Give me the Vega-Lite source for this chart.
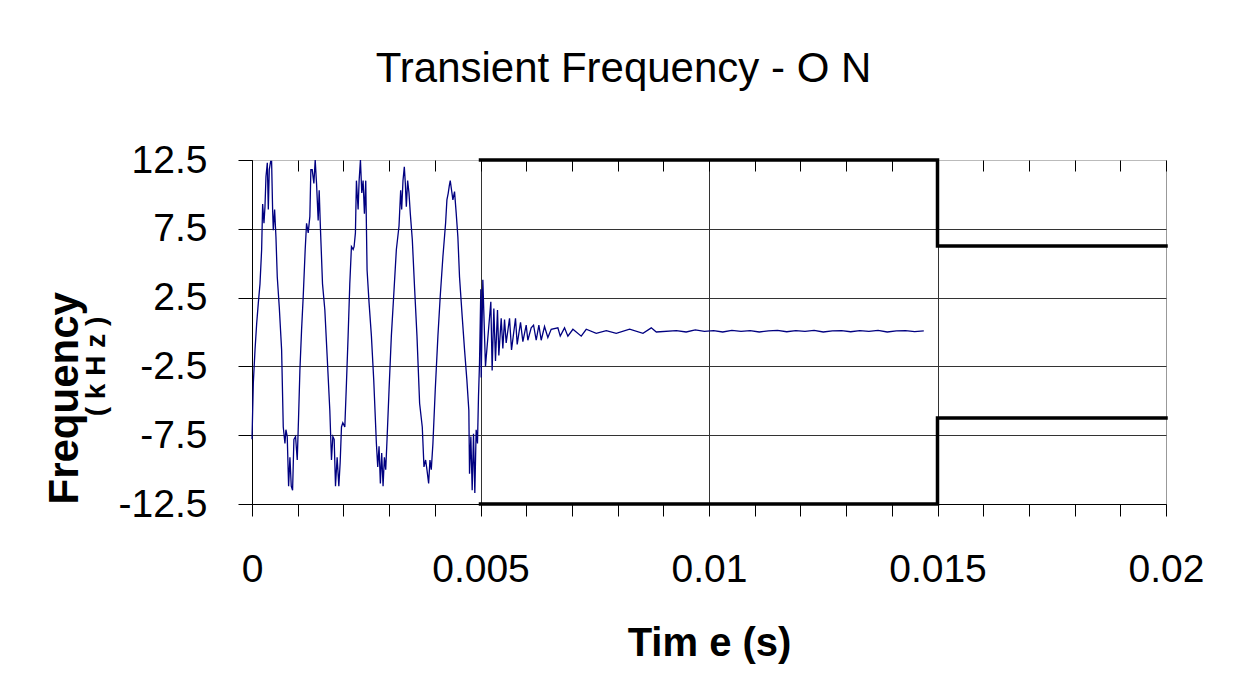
{
  "$schema": "https://vega.github.io/schema/vega-lite/v6.json",
  "width": 914,
  "height": 344,
  "autosize": "none",
  "padding": {"left": 252, "top": 160, "right": 72, "bottom": 186},
  "background": "white",
  "title": {
    "text": "Transient Frequency - O N",
    "font": "Liberation Sans, Arial, sans-serif",
    "fontSize": 42,
    "fontWeight": "normal",
    "color": "#000",
    "anchor": "middle",
    "frame": "bounds",
    "offset": 50
  },
  "datasets": {
    "signal": [
      {"t": 0, "f": -7.8}, {"t": 0.000029, "f": -3.7}, {"t": 0.000066, "f": -1.3}, {"t": 0.000102, "f": 0.6},
      {"t": 0.000138, "f": 2.1}, {"t": 0.000175, "f": 3.5}, {"t": 0.000211, "f": 6.0}, {"t": 0.000233, "f": 9.3},
      {"t": 0.000262, "f": 7.9}, {"t": 0.000284, "f": 9.1}, {"t": 0.000306, "f": 11.3}, {"t": 0.000335, "f": 12.3},
      {"t": 0.000357, "f": 8.9}, {"t": 0.000378, "f": 11.8}, {"t": 0.000408, "f": 12.4}, {"t": 0.000429, "f": 12.4},
      {"t": 0.000451, "f": 8.9}, {"t": 0.000466, "f": 7.4}, {"t": 0.000495, "f": 8.9}, {"t": 0.000524, "f": 6.9},
      {"t": 0.000553, "f": 4.0}, {"t": 0.000597, "f": 1.8}, {"t": 0.000648, "f": -1.3}, {"t": 0.000684, "f": -6.9},
      {"t": 0.000721, "f": -8.1}, {"t": 0.000742, "f": -7.1}, {"t": 0.000771, "f": -7.6}, {"t": 0.000801, "f": -11.2},
      {"t": 0.000830, "f": -9.1}, {"t": 0.000859, "f": -11.2}, {"t": 0.000888, "f": -11.5}, {"t": 0.000917, "f": -7.8},
      {"t": 0.000953, "f": -7.6}, {"t": 0.000990, "f": -9.3}, {"t": 0.001019, "f": -6.2}, {"t": 0.001048, "f": -2.8},
      {"t": 0.001084, "f": 0.1}, {"t": 0.001121, "f": 2.6}, {"t": 0.001164, "f": 6.0}, {"t": 0.001194, "f": 7.9},
      {"t": 0.001230, "f": 7.2}, {"t": 0.001266, "f": 8.4}, {"t": 0.001288, "f": 11.8}, {"t": 0.001317, "f": 11.8},
      {"t": 0.001354, "f": 10.8}, {"t": 0.001383, "f": 12.5}, {"t": 0.001412, "f": 10.8}, {"t": 0.001448, "f": 8.1},
      {"t": 0.001470, "f": 10.3}, {"t": 0.001499, "f": 7.4}, {"t": 0.001543, "f": 3.5}, {"t": 0.001594, "f": 1.6},
      {"t": 0.001645, "f": -1.8}, {"t": 0.001703, "f": -5.7}, {"t": 0.001739, "f": -9.3}, {"t": 0.001769, "f": -7.6},
      {"t": 0.001798, "f": -7.8}, {"t": 0.001827, "f": -11.2}, {"t": 0.001863, "f": -9.1}, {"t": 0.001900, "f": -11.2},
      {"t": 0.001929, "f": -9.5}, {"t": 0.001958, "f": -6.9}, {"t": 0.001987, "f": -6.6}, {"t": 0.002031, "f": -6.9},
      {"t": 0.002067, "f": -3.7}, {"t": 0.002103, "f": -0.3}, {"t": 0.002140, "f": 3.5}, {"t": 0.002176, "f": 6.2},
      {"t": 0.002213, "f": 6.0}, {"t": 0.002234, "f": 6.2}, {"t": 0.002263, "f": 7.2}, {"t": 0.002285, "f": 11.0},
      {"t": 0.002322, "f": 8.9}, {"t": 0.002344, "f": 11.0}, {"t": 0.002373, "f": 12.5}, {"t": 0.002402, "f": 10.1},
      {"t": 0.002431, "f": 11.0}, {"t": 0.002460, "f": 8.6}, {"t": 0.002489, "f": 11.0}, {"t": 0.002518, "f": 4.5},
      {"t": 0.002562, "f": 2.1}, {"t": 0.002613, "f": -0.3}, {"t": 0.002664, "f": -3.5}, {"t": 0.002722, "f": -8.1},
      {"t": 0.002751, "f": -9.8}, {"t": 0.002780, "f": -8.3}, {"t": 0.002809, "f": -11.0}, {"t": 0.002838, "f": -8.8},
      {"t": 0.002868, "f": -11.2}, {"t": 0.002897, "f": -9.1}, {"t": 0.002926, "f": -10.0}, {"t": 0.002955, "f": -7.8},
      {"t": 0.002999, "f": -4.2}, {"t": 0.003049, "f": -0.3}, {"t": 0.003100, "f": 2.6}, {"t": 0.003159, "f": 6.0},
      {"t": 0.003217, "f": 7.7}, {"t": 0.003253, "f": 10.3}, {"t": 0.003275, "f": 8.9}, {"t": 0.003304, "f": 11.0},
      {"t": 0.003333, "f": 12.0}, {"t": 0.003355, "f": 10.8}, {"t": 0.003377, "f": 9.1}, {"t": 0.003406, "f": 11.0},
      {"t": 0.003435, "f": 10.1}, {"t": 0.003464, "f": 8.6}, {"t": 0.003508, "f": 6.7}, {"t": 0.003559, "f": 3.1},
      {"t": 0.003610, "f": -0.3}, {"t": 0.003668, "f": -5.2}, {"t": 0.003726, "f": -6.9}, {"t": 0.003763, "f": -9.8},
      {"t": 0.003799, "f": -9.3}, {"t": 0.003828, "f": -10.0}, {"t": 0.003865, "f": -11.0}, {"t": 0.003894, "f": -9.3},
      {"t": 0.003923, "f": -10.0}, {"t": 0.003959, "f": -8.1}, {"t": 0.004010, "f": -4.2}, {"t": 0.004068, "f": -0.3},
      {"t": 0.004119, "f": 2.6}, {"t": 0.004178, "f": 5.5}, {"t": 0.004236, "f": 7.9}, {"t": 0.004265, "f": 9.6},
      {"t": 0.004294, "f": 10.1}, {"t": 0.004316, "f": 10.6}, {"t": 0.004338, "f": 11.0}, {"t": 0.004367, "f": 10.3},
      {"t": 0.004396, "f": 9.6}, {"t": 0.004432, "f": 10.2}, {"t": 0.004469, "f": 8.6}, {"t": 0.004505, "f": 6.9},
      {"t": 0.004541, "f": 4.0}, {"t": 0.004600, "f": 1.1}, {"t": 0.004651, "f": -1.3}, {"t": 0.004702, "f": -3.5},
      {"t": 0.004745, "f": -5.7}, {"t": 0.004760, "f": -10.3}, {"t": 0.004789, "f": -7.6}, {"t": 0.004818, "f": -11.5},
      {"t": 0.004847, "f": -7.4}, {"t": 0.004876, "f": -11.7}, {"t": 0.004905, "f": -7.1}, {"t": 0.004934, "f": -8.1},
      {"t": 0.004956, "f": -4.7}, {"t": 0.004978, "f": -2.3}, {"t": 0.005007, "f": 3.1},
      {"t": 0.005015, "f": -3.3}, {"t": 0.005051, "f": 3.8}, {"t": 0.005109, "f": -2.5}, {"t": 0.005226, "f": 2.2},
      {"t": 0.005255, "f": -2.8}, {"t": 0.005292, "f": 1.7}, {"t": 0.005328, "f": -2.1}, {"t": 0.005372, "f": 1.6},
      {"t": 0.005401, "f": -1.7}, {"t": 0.005453, "f": 1.0}, {"t": 0.005489, "f": -1.2}, {"t": 0.005526, "f": 0.9},
      {"t": 0.005562, "f": -0.8}, {"t": 0.005635, "f": 1.0}, {"t": 0.005679, "f": -1.3}, {"t": 0.005766, "f": 1.0},
      {"t": 0.005803, "f": -0.9}, {"t": 0.005876, "f": 0.7}, {"t": 0.005927, "f": -0.7}, {"t": 0.006000, "f": 0.5},
      {"t": 0.006036, "f": -0.6}, {"t": 0.006109, "f": 0.3}, {"t": 0.006161, "f": 0.5}, {"t": 0.006219, "f": -0.6},
      {"t": 0.006277, "f": 0.5}, {"t": 0.006328, "f": -0.6}, {"t": 0.006401, "f": 0.4}, {"t": 0.006474, "f": -0.4},
      {"t": 0.006547, "f": 0.2}, {"t": 0.006693, "f": 0.3}, {"t": 0.006745, "f": -0.3}, {"t": 0.006839, "f": 0.3},
      {"t": 0.006912, "f": -0.3}, {"t": 0.007022, "f": 0.2}, {"t": 0.007204, "f": -0.3}, {"t": 0.007314, "f": 0.2},
      {"t": 0.007533, "f": -0.1}, {"t": 0.007752, "f": 0.1}, {"t": 0.007971, "f": -0.1}, {"t": 0.008263, "f": 0.2},
      {"t": 0.008555, "f": -0.1}, {"t": 0.008737, "f": 0.3}, {"t": 0.008847, "f": 0.0}, {"t": 0.009285, "f": 0.1},
      {"t": 0.0095, "f": 0.0}, {"t": 0.0097, "f": 0.15}, {"t": 0.0099, "f": 0.05}, {"t": 0.0101, "f": 0.1},
      {"t": 0.0103, "f": 0.0}, {"t": 0.0105, "f": 0.12}, {"t": 0.0107, "f": 0.05}, {"t": 0.0109, "f": 0.1},
      {"t": 0.0111, "f": 0.0}, {"t": 0.0113, "f": 0.08}, {"t": 0.0115, "f": 0.12}, {"t": 0.0117, "f": 0.02},
      {"t": 0.0119, "f": 0.1}, {"t": 0.0121, "f": 0.05}, {"t": 0.0123, "f": 0.12}, {"t": 0.0125, "f": 0.0},
      {"t": 0.0127, "f": 0.08}, {"t": 0.0129, "f": 0.1}, {"t": 0.0131, "f": 0.02}, {"t": 0.0133, "f": 0.1},
      {"t": 0.0135, "f": 0.05}, {"t": 0.0137, "f": 0.12}, {"t": 0.0139, "f": 0.0}, {"t": 0.0141, "f": 0.08},
      {"t": 0.0143, "f": 0.1}, {"t": 0.0145, "f": 0.03}, {"t": 0.0147, "f": 0.08}
    ],
    "mask": [
      {"band": "upper", "i": 0, "t": 0.005, "f": 12.5},
      {"band": "upper", "i": 1, "t": 0.015, "f": 12.5},
      {"band": "upper", "i": 2, "t": 0.015, "f": 6.25},
      {"band": "upper", "i": 3, "t": 0.02, "f": 6.25},
      {"band": "lower", "i": 0, "t": 0.005, "f": -12.5},
      {"band": "lower", "i": 1, "t": 0.015, "f": -12.5},
      {"band": "lower", "i": 2, "t": 0.015, "f": -6.25},
      {"band": "lower", "i": 3, "t": 0.02, "f": -6.25}
    ]
  },
  "config": {
    "font": "Liberation Sans, Arial, sans-serif",
    "view": {"stroke": null},
    "axis": {"labelColor": "#000", "titleColor": "#000", "tickColor": "#000", "domainColor": "#000", "labelFont": "Liberation Sans", "titleFont": "Liberation Sans"}
  },
  "layer": [
    {
      "data": {"name": "signal"},
      "mark": {"type": "line", "color": "#000080", "strokeWidth": 1.3, "clip": false},
      "encoding": {
        "x": {
          "field": "t", "type": "quantitative",
          "scale": {"domain": [0, 0.02], "nice": false, "zero": false},
          "axis": {
            "values": [0, 0.001, 0.002, 0.003, 0.004, 0.005, 0.006, 0.007, 0.008, 0.009, 0.01, 0.011, 0.012, 0.013, 0.014, 0.015, 0.016, 0.017, 0.018, 0.019, 0.02],
            "labelExpr": "abs(datum.value*200 - round(datum.value*200)) < 0.001 ? toString(datum.value) : ''",
            "labelFontSize": 39,
            "labelPadding": 34,
            "labelFlush": false,
            "labelOverlap": false,
            "tickSize": 12,
            "tickWidth": 1,
            "grid": true,
            "gridWidth": 1,
            "gridOpacity": {"condition": {"test": "abs(datum.value*200 - round(datum.value*200)) < 0.001", "value": 1}, "value": 0},
            "gridColor": {"condition": {"test": "datum.value > 0.0195", "value": "#999"}, "value": "#333"},
            "title": "Tim e (s)",
            "titleFontSize": 40,
            "titleFontWeight": "bold",
            "titlePadding": 34
          }
        },
        "y": {
          "field": "f", "type": "quantitative",
          "scale": {"domain": [-12.5, 12.5], "nice": false, "zero": false},
          "axis": {
            "values": [-12.5, -7.5, -2.5, 2.5, 7.5, 12.5],
            "labelExpr": "toString(datum.value)",
            "labelFontSize": 39,
            "labelPadding": 31,
            "tickSize": 14,
            "grid": true,
            "gridWidth": 1,
            "gridColor": {"condition": {"test": "datum.value > 12", "value": "#bbb"}, "value": "#333"},
            "title": "Frequency",
            "titleFontSize": 42,
            "titleFontWeight": "bold",
            "titleAnchor": "start",
            "titlePadding": 32
          }
        }
      }
    },
    {
      "data": {"name": "mask"},
      "mark": {"type": "line", "color": "#000", "strokeWidth": 3.5, "strokeJoin": "miter", "strokeCap": "square", "clip": false},
      "encoding": {
        "x": {
          "field": "t", "type": "quantitative",
          "axis": {
            "values": [0, 0.001, 0.002, 0.003, 0.004, 0.005, 0.006, 0.007, 0.008, 0.009, 0.01, 0.011, 0.012, 0.013, 0.014, 0.015, 0.016, 0.017, 0.018, 0.019, 0.02],
            "labels": false, "domain": false, "grid": false, "tickSize": -11, "tickWidth": 1, "title": null
          }
        },
        "y": {
          "field": "f", "type": "quantitative",
          "axis": {
            "orient": "left",
            "labels": false, "domain": false, "grid": false, "ticks": false,
            "title": "( k H z )",
            "titleFontSize": 28,
            "titleFontWeight": "bold",
            "titlePadding": 142,
            "titleY": 206
          }
        },
        "detail": {"field": "band"},
        "order": {"field": "i", "type": "quantitative"}
      }
    }
  ],
  "resolve": {"axis": {"x": "independent", "y": "independent"}}
}
